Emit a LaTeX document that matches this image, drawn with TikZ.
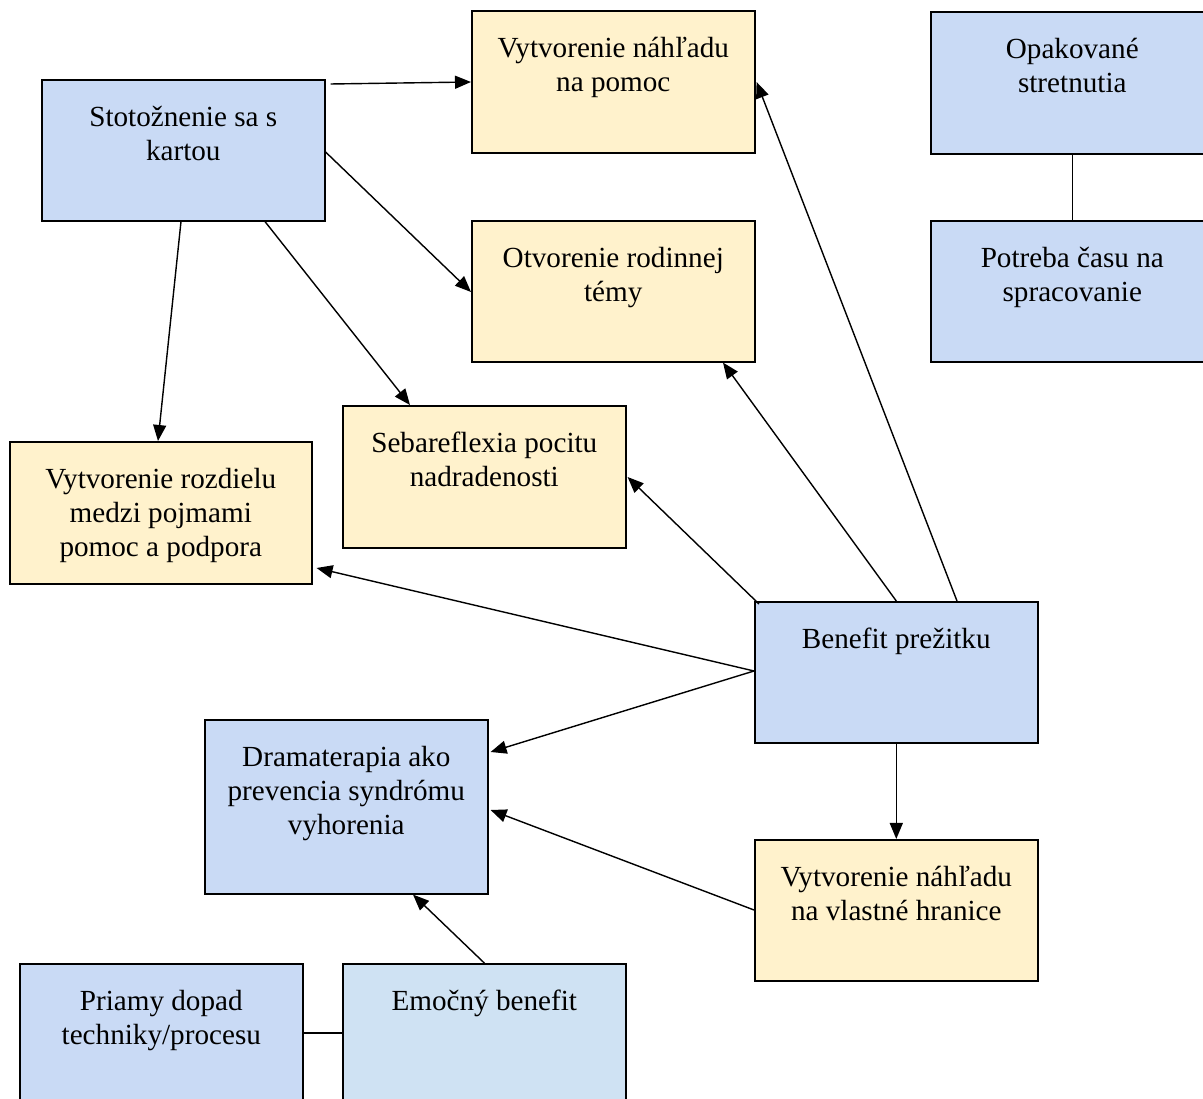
\documentclass[tikz,border=0pt]{standalone}
\usepackage{fontspec}
\setmainfont{Liberation Serif}
\usepackage{tikz}
\usetikzlibrary{arrows.meta, calc}
\definecolor{modra}{RGB}{201,218,245}
\definecolor{svetlomodra}{RGB}{207,226,243}
\definecolor{zlta}{RGB}{255,242,204}
\newcommand{\obsah}[2]{\parbox[c][#1cm][t]{5.5cm}{\centering\vspace*{0.53cm}#2}}
\tikzset{blok/.style={draw=black, line width=0.9pt, anchor=north west, inner sep=0pt, minimum width=5.66cm, font=\fontsize{16.6}{19.4}\selectfont},
    modry/.style={blok, fill=modra},
    zlty/.style={blok, fill=zlta},
    sipka/.style={line width=0.8pt, -{Triangle[length=0.32cm, width=0.26cm]}},
    ciara/.style={line width=0.8pt}}

\begin{document}
\begin{tikzpicture}
    \useasboundingbox (0,0) rectangle (24.06,-21.98);
    \clip (0,0) rectangle (24.06,-21.98);
    % horny rad
    \node[modry] (stot) at (0.82,-1.58) {\obsah{2.82}{Stotožnenie sa s\\kartou}};
    \node[zlty] (napom) at (9.42,-0.2) {\obsah{2.84}{Vytvorenie náhľadu\\na pomoc}};
    \node[zlty] (otv) at (9.42,-4.4) {\obsah{2.82}{Otvorenie rodinnej\\témy}};
    \node[modry] (opak) at (18.6,-0.22) {\obsah{2.84}{Opakované\\stretnutia}};
    \node[modry] (potr) at (18.6,-4.4) {\obsah{2.82}{Potreba času na\\spracovanie}};
    % stred
    \node[zlty] (seb) at (6.84,-8.1) {\obsah{2.84}{Sebareflexia pocitu\\nadradenosti}};
    \node[zlty, minimum width=6.04cm] (rozd) at (0.18,-8.82) {\obsah{2.84}{Vytvorenie rozdielu\\medzi pojmami\\pomoc a podpora}};
    \node[modry] (ben) at (15.08,-12.02) {\obsah{2.82}{Benefit prežitku}};
    \node[modry] (drama) at (4.08,-14.38) {\obsah{3.48}{Dramaterapia ako\\prevencia syndrómu\\vyhorenia}};
    \node[zlty] (hran) at (15.08,-16.78) {\obsah{2.82}{Vytvorenie náhľadu\\na vlastné hranice}};
    % dolny rad
    \node[modry] (priamy) at (0.38,-19.26) {\obsah{3.2}{Priamy dopad\\techniky/procesu}};
    \node[blok, fill=svetlomodra] (emoc) at (6.84,-19.26) {\obsah{3.2}{Emočný benefit}};

    \draw[sipka] ($(stot.north east)+(0.1,-0.1)$) -- ($(napom.north west)+(0,-1.44)$);
    \draw[sipka] ($(stot.north east)+(0,-1.46)$) -- ($(otv.north west)+(0,-1.44)$);
    \draw[sipka] ($(stot.south west)+(4.48,0)$) -- ($(seb.north west)+(1.36,0)$);
    \draw[sipka] ($(stot.south west)+(2.8,0)$) -- ($(rozd.north west)+(2.98,0)$);
    \draw[sipka] ($(ben.north west)+(4.06,0)$) -- ($(napom.north east)+(0.02,-1.44)$);
    \draw[sipka] (ben.north) -- ($(otv.south west)+(5.04,0)$);
    \draw[sipka] ($(ben.north west)+(0.1,-0.06)$) -- ($(seb.north east)+(0.02,-1.44)$);
    \draw[sipka] ($(ben.north west)+(0,-1.4)$) -- ($(rozd.north east)+(0.08,-2.54)$);
    \draw[sipka] ($(ben.north west)+(0,-1.4)$) -- ($(drama.north east)+(0.04,-0.66)$);
    \draw[sipka] (ben.south) -- (hran.north);
    \draw[sipka] ($(hran.north west)+(0,-1.42)$) -- ($(drama.north east)+(0.04,-1.82)$);
    \draw[sipka] (emoc.north) -- ($(drama.south west)+(4.18,0)$);
    \draw[ciara] (opak.south) -- (potr.north);
    \draw[ciara] ($(priamy.north east)+(0,-1.4)$) -- ($(emoc.north west)+(0,-1.4)$);
\end{tikzpicture}
\end{document}
